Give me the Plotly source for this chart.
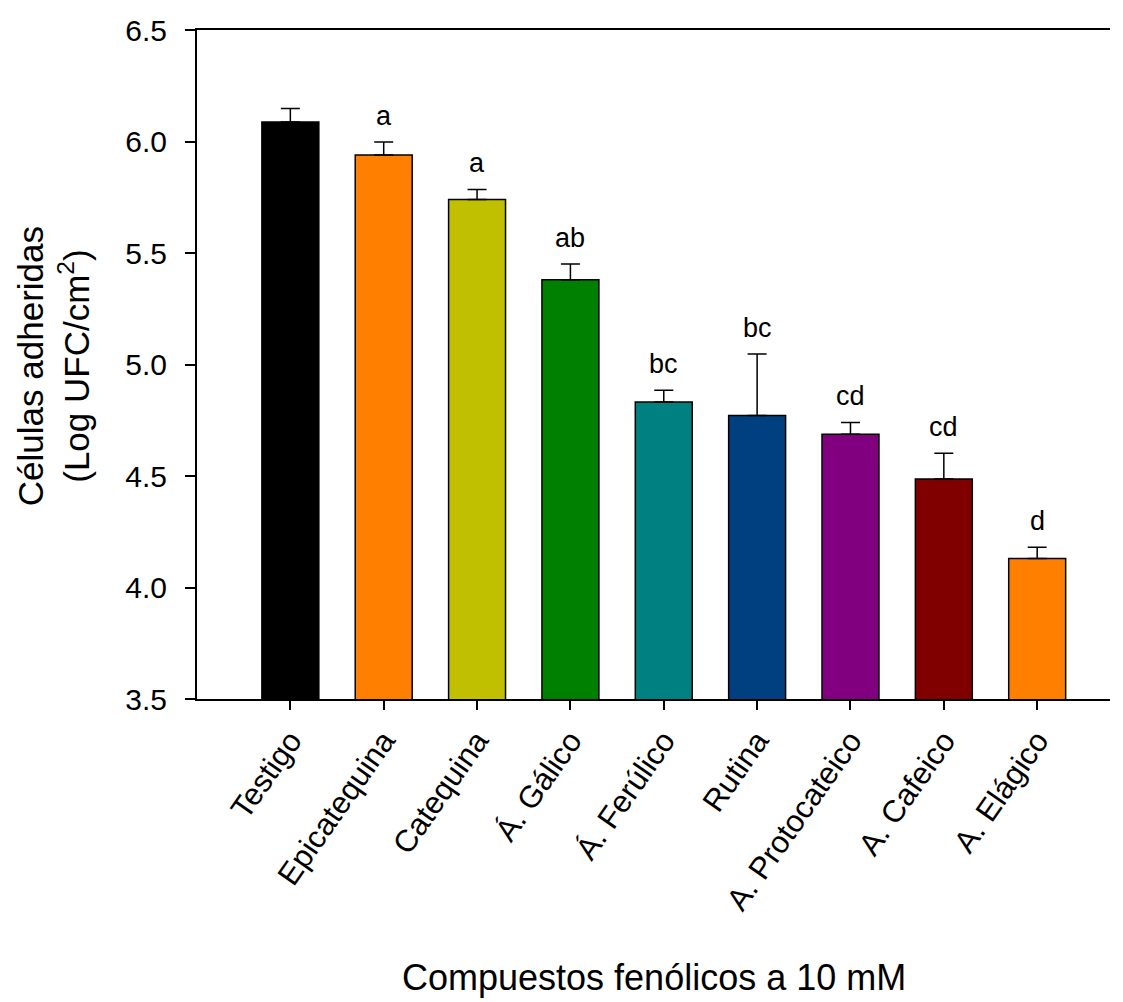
import plotly.graph_objects as go

categories = ["Testigo", "Epicatequina", "Catequina", "Á. Gálico", "Á. Ferúlico",
              "Rutina", "A. Protocateico", "A. Cafeico", "A. Elágico"]
values = [6.088, 5.939, 5.740, 5.380, 4.832, 4.771, 4.687, 4.487, 4.130]
errors = [0.060, 0.059, 0.045, 0.071, 0.052, 0.276, 0.053, 0.115, 0.050]
letters = ["", "a", "a", "ab", "bc", "bc", "cd", "cd", "d"]
colors = ["#000000", "#FF8000", "#C0C000", "#008000", "#008080",
          "#004080", "#800080", "#800000", "#FF8000"]
y_ticks = [3.5, 4.0, 4.5, 5.0, 5.5, 6.0, 6.5]
x_title = "Compuestos fenólicos a 10 mM"
y_title = "Células adheridas<br>(Log UFC/cm<sup>2</sup>)"

FONT = "Liberation Sans, Arial, sans-serif"
xs = list(range(len(categories)))

fig = go.Figure()
fig.add_trace(go.Bar(
    x=xs, y=values, width=0.61,
    marker=dict(color=colors, line=dict(color="black", width=1.5)),
    error_y=dict(type="data", array=errors, arrayminus=[0] * len(errors),
                 symmetric=False, color="black", thickness=1.5, width=9.5),
    showlegend=False,
))

for x, v, e, t in zip(xs, values, errors, letters):
    if t:
        fig.add_annotation(x=x, y=v + e, text=t, showarrow=False,
                           yanchor="bottom", yshift=9,
                           font=dict(family=FONT, size=27, color="black"))

# axis titles as annotations (paper coords relative to plot area)
fig.add_annotation(x=0.5, xref="paper", y=-0.417, yref="paper", text=x_title,
                   showarrow=False, xanchor="center", yanchor="middle",
                   font=dict(family=FONT, size=36, color="black"))
fig.add_annotation(x=-0.157, xref="paper", y=0.497, yref="paper", text=y_title,
                   showarrow=False, xanchor="center", yanchor="middle", textangle=-90,
                   font=dict(family=FONT, size=35, color="black"))

fig.update_layout(
    width=1107, height=994,
    margin=dict(l=189, r=5, t=16, b=303),
    plot_bgcolor="white", paper_bgcolor="white",
    font=dict(family=FONT, color="black"),
)
fig.update_xaxes(
    range=[-1, 8.78], tickvals=xs, ticktext=categories, tickangle=-55,
    tickfont=dict(family=FONT, size=31, color="black"),
    ticks="outside", ticklen=9, tickwidth=1.5, tickcolor="black",
    showline=True, linecolor="black", linewidth=2, mirror=True,
    showgrid=False, zeroline=False,
)
fig.update_yaxes(
    range=[3.5, 6.5], tickvals=y_ticks, tickformat=".1f",
    tickfont=dict(family=FONT, size=30, color="black"),
    ticks="outside", ticklen=10, tickwidth=1.5, tickcolor="black",
    ticklabelstandoff=12, ticklabeloverflow="allow",
    showline=True, linecolor="black", linewidth=2,
    showgrid=False, zeroline=False,
)

fig.write_html("out.html")
